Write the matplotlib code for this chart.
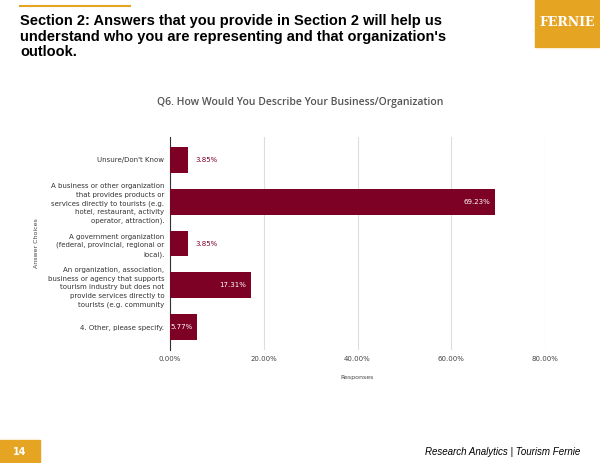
import matplotlib.pyplot as plt
from matplotlib.patches import Rectangle

categories = ["Unsure/Don't Know",
              "A business or other organization\nthat provides products or\nservices directly to tourists (e.g.\nhotel, restaurant, activity\noperator, attraction).",
              "A government organization\n(federal, provincial, regional or\nlocal).",
              "An organization, association,\nbusiness or agency that supports\ntourism industry but does not\nprovide services directly to\ntourists (e.g. community",
              "4. Other, please specify."]
values = [3.85, 69.23, 3.85, 17.31, 5.77]
ticks = [0, 20, 40, 60, 80]
tick_labels = ["0.00%", "20.00%", "40.00%", "60.00%", "80.00%"]

bar_color = "#7D0025"
gold = "#E5A422"

fig = plt.figure(figsize=(6, 4.63), dpi=100)
fig.patch.set_facecolor("white")

# header
fig.add_artist(plt.Line2D([20 / 600, 130 / 600], [1 - 6 / 463] * 2, color=gold, lw=1.5))
fig.text(20 / 600, 1 - 14 / 463,
         "Section 2: Answers that you provide in Section 2 will help us\n"
         "understand who you are representing and that organization's\noutlook.",
         ha="left", va="top", fontsize=10.5, fontweight="bold", family="Liberation Sans", linespacing=1.15)
fig.add_artist(Rectangle((535 / 600, 1 - 47 / 463), 65 / 600, 47 / 463, color=gold, transform=fig.transFigure))
fig.text(567 / 600, 1 - 22 / 463, "FERNIE", color="white", ha="center", va="center", fontsize=9,
         family="DejaVu Serif", fontweight="bold")

# footer
fig.add_artist(Rectangle((0, 0), 40 / 600, 23 / 463, color=gold, transform=fig.transFigure))
fig.text(20 / 600, 11 / 463, "14", color="white", ha="center", va="center", fontsize=7, fontweight="bold")
fig.text(580 / 600, 11 / 463, "Research Analytics | Tourism Fernie", ha="right", va="center",
         fontsize=7, style="italic", family="Liberation Sans")

fig.text(300 / 600, 1 - 103 / 463, "Q6. How Would You Describe Your Business/Organization",
         ha="center", va="center", fontsize=7.5, color="#555555", family="Open Sans", fontweight="semibold")

ax = fig.add_axes([170 / 600, 1 - 350 / 463, 375 / 600, 213 / 463])
y = list(range(len(categories)))
ax.barh(y, values, height=0.62, color=bar_color, zorder=3)
ax.set_ylim(len(categories) - 0.45, -0.55)
ax.set_xlim(0, 80)
ax.set_xticks(ticks)
ax.set_xticklabels(tick_labels, fontsize=5, color="#444444")
ax.set_yticks(y)
ax.set_yticklabels(categories, fontsize=5, color="#333333", linespacing=1.5)
ax.tick_params(length=0, pad=4)
ax.grid(axis="x", color="#dddddd", lw=0.8, zorder=0)
for s in ["top", "right", "bottom"]:
    ax.spines[s].set_visible(False)
ax.spines["left"].set_color("#333333")
ax.spines["left"].set_linewidth(0.8)
for yi, v in zip(y, values):
    if v > 5:
        ax.text(v - 1, yi, f"{v:.2f}%", color="white", ha="right", va="center", fontsize=5)
    else:
        ax.text(v + 1.5, yi, f"{v:.2f}%", color=bar_color, ha="left", va="center", fontsize=5)
ax.set_xlabel("Responses", fontsize=4.5, color="#444444", labelpad=10)
ax.set_ylabel("Answer Choices", fontsize=4.5, color="#444444", labelpad=6)

fig.savefig("out.png", dpi=100)
